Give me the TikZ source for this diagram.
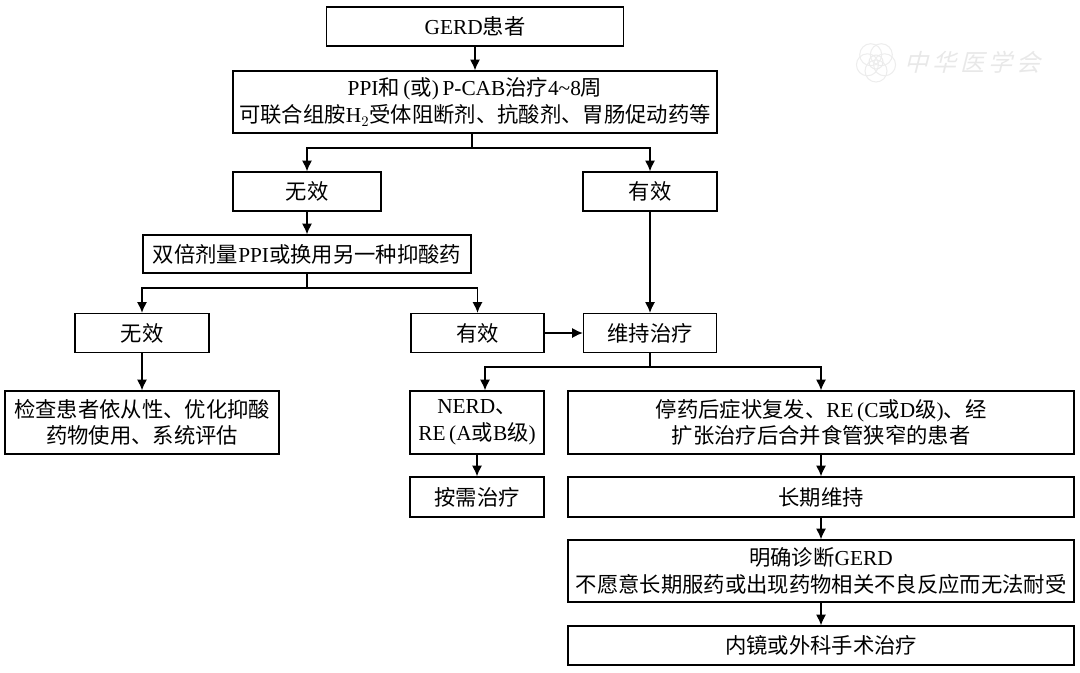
\documentclass[tikz,border=0pt]{standalone}
\usepackage{fontspec}
\setmainfont{Liberation Serif}
\newfontfamily\cjk{Noto Sans CJK SC}
\usetikzlibrary{arrows.meta}
\newcommand{\zh}[1]{{\cjk #1}}
\tikzset{
    flowbox/.style={draw,line width=1pt,inner sep=0pt,align=center,font=\fontsize{16pt}{20pt}\selectfont},
    flowarrow/.style={line width=1pt,-{Latex[length=8pt,width=7.5pt]}},
    flowline/.style={line width=1pt},
    faintmark/.style={text=black!9,font=\fontsize{18pt}{20pt}\selectfont,xslant=0.25,transform shape}
}
\begin{document}
\begin{tikzpicture}[x=0.75pt,y=-0.75pt]
    \useasboundingbox (0,0) rectangle (1080,672);
    % watermark
    \foreach \a in {18,90,162,234,306}
        \draw[black!7,line width=0.8pt] (876,62) ++(\a:9) circle[radius=11];
    \draw[black!8,line width=0.8pt] (876,62) circle[radius=7];
    \node[faintmark](markname) at (975,62) {\zh{中\,华\,医\,学\,会}};
    % boxes
    \node[flowbox,minimum width=222.75pt,minimum height=29.25pt](gerd) at (475,26.5) {GERD\zh{患者}};
    \node[flowbox,minimum width=363pt,minimum height=46.5pt](ppi) at (475,102) {PPI\zh{和}\,(\zh{或})\,P-CAB\zh{治疗}4\char`\~8\zh{周}\\\zh{可联合组胺}H$_2$\zh{受体阻断剂、抗酸剂、胃肠促动药等}};
    \node[flowbox,minimum width=111pt,minimum height=29.25pt](noeffA) at (307,191.5) {\zh{无效}};
    \node[flowbox,minimum width=100.5pt,minimum height=29.25pt](effA) at (650,191.5) {\zh{有效}};
    \node[flowbox,minimum width=246pt,minimum height=28.5pt](double) at (307,254) {\zh{双倍剂量}PPI\zh{或换用另一种抑酸药}};
    \node[flowbox,minimum width=100.5pt,minimum height=29.25pt](noeffB) at (142,333) {\zh{无效}};
    \node[flowbox,minimum width=99.75pt,minimum height=29.25pt](effB) at (477.5,333) {\zh{有效}};
    \node[flowbox,minimum width=99.75pt,minimum height=29.25pt](keep) at (650,333) {\zh{维持治疗}};
    \node[flowbox,minimum width=205.5pt,minimum height=47.25pt](check) at (142,422.5) {\zh{检查患者依从性、优化抑酸}\\\zh{药物使用、系统评估}};
    \node[flowbox,minimum width=100.5pt,minimum height=47.25pt](nerd) at (477,422.5) {NERD\zh{、}\\RE\,(A\zh{或}B\zh{级})};
    \node[flowbox,minimum width=100.5pt,minimum height=30pt](demand) at (477,497) {\zh{按需治疗}};
    \node[flowbox,minimum width=379.5pt,minimum height=47.25pt](relapse) at (821,422.5) {\zh{停药后症状复发、}RE\,(C\zh{或}D\zh{级})\zh{、经}\\\zh{扩张治疗后合并食管狭窄的患者}};
    \node[flowbox,minimum width=379.5pt,minimum height=30pt](longterm) at (821,497) {\zh{长期维持}};
    \node[flowbox,minimum width=379.5pt,minimum height=46.5pt](confirm) at (821,571) {\zh{明确诊断}GERD\\\zh{不愿意长期服药或出现药物相关不良反应而无法耐受}};
    \node[flowbox,minimum width=379.5pt,minimum height=29.25pt](surgery) at (821,645.5) {\zh{内镜或外科手术治疗}};
    % branch points
    \coordinate (splitA) at (472,148);
    \coordinate (splitB) at (307,288);
    \coordinate (splitC) at (650,367);
    \coordinate (nerdin) at (485,367);
    % connectors
    \draw[flowarrow] (gerd) -- (ppi);
    \draw[flowline] (ppi.south -| splitA) -- (splitA);
    \draw[flowarrow] (splitA) -| (noeffA);
    \draw[flowarrow] (splitA) -| (effA);
    \draw[flowarrow] (noeffA) -- (double);
    \draw[flowarrow] (effA) -- (keep);
    \draw[flowline] (double) -- (splitB);
    \draw[flowarrow] (splitB) -| (noeffB);
    \draw[flowarrow] (splitB) -| (effB);
    \draw[flowarrow] (noeffB) -- (check);
    \draw[flowarrow] (effB) -- (keep);
    \draw[flowline] (keep) -- (splitC);
    \draw[flowarrow] (splitC) -- (nerdin) -- (nerdin |- nerd.north);
    \draw[flowarrow] (splitC) -| (relapse);
    \draw[flowarrow] (nerd) -- (demand);
    \draw[flowarrow] (relapse) -- (longterm);
    \draw[flowarrow] (longterm) -- (confirm);
    \draw[flowarrow] (confirm) -- (surgery);
\end{tikzpicture}
\end{document}
